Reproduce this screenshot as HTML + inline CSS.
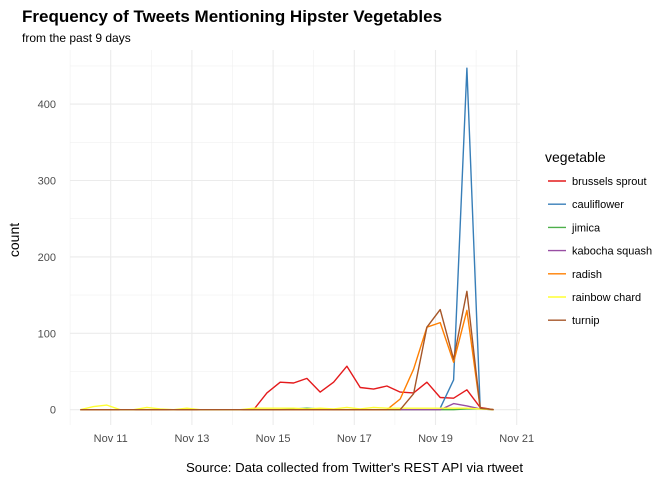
<!DOCTYPE html>
<html><head><meta charset="utf-8"><style>
body{margin:0;background:#fff;font-family:"Liberation Sans",sans-serif;}
svg text{font-family:"Liberation Sans",sans-serif;}
</style></head><body>
<svg id="chart" width="672" height="480" viewBox="0 0 672 480">
<text x="22" y="22" font-size="17" font-weight="bold" fill="#000">Frequency of Tweets Mentioning Hipster Vegetables</text>
<text x="22" y="42" font-size="12" fill="#000">from the past 9 days</text>
<g id="grid"></g>
<g id="series"></g>
<g id="axes"></g>
<text transform="translate(19,240) rotate(-90)" text-anchor="middle" font-size="14" fill="#000">count</text>
<text x="523" y="472" text-anchor="end" font-size="13.2" fill="#000">Source: Data collected from Twitter's REST API via rtweet</text>
<g id="legend"></g>
</svg>
<script>
const seriesNames = ["brussels sprout","cauliflower","jimica","kabocha squash","radish","rainbow chard","turnip"];
const seriesColors = ["#e41a1c","#377eb8","#4daf4a","#984ea3","#ff7f00","#ffff33","#a65628"];
const startDay = -0.75;
const stepDay = 0.3284;
const brussels = [0,0,0,0,0,0,0,0,0,0,0,0,0,0,22,36,35,41,23,36,57,29,27,31,23,22,36,16,15,26,3,0];
const cauliflower = [null,null,null,null,null,null,null,null,null,null,null,null,null,null,null,null,null,null,null,null,null,null,null,null,null,null,null,2,39,447,2,0];
const jimica = [0,0,0,0,0,0,0,0,0,0,0,0,0,0,0,0,1,2,1,0,0,0,0,0,0,0,0,0,0,1,1,0];
const kabocha = [null,null,null,null,null,null,null,null,null,null,null,null,null,null,null,null,null,null,null,null,null,null,null,null,0,0,0,0,8,5,1,0];
const radish = [0,0,0,0,0,0,0,0,0,0,0,0,0,0,0,0,0,0,0,0,0,0,0,0,14,53,108,114,62,130,2,0];
const chard = [0,4,6,0,0,3,1,0,2,0,0,0,0,2,2,2,2,1,2,1,3,1,3,2,2,2,2,2,2,2,1,0];
const turnip = [0,0,0,0,0,0,0,0,0,0,0,0,0,0,0,0,0,0,0,0,0,0,0,0,0,21,108,131,66,155,2,0];
const seriesData = [brussels,cauliflower,jimica,kabocha,radish,chard,turnip];
const yTicks = [0,100,200,300,400];
const xTickDays = [0,2,4,6,8,10];
const xTickLabels = ["Nov 11","Nov 13","Nov 15","Nov 17","Nov 19","Nov 21"];

const NS="http://www.w3.org/2000/svg";
const L=70,R=520,T=50,B=425;
const xScale=d=>110.7+d*40.6;
const yScale=v=>409.7-v*0.764;
function mk(tag,attrs,parent,text){const e=document.createElementNS(NS,tag);for(const k in attrs)e.setAttribute(k,attrs[k]);if(text!==undefined)e.textContent=text;parent.appendChild(e);return e;}
const grid=document.getElementById('grid'),axes=document.getElementById('axes'),ser=document.getElementById('series'),leg=document.getElementById('legend');
for(let v=50;v<=450;v+=100){const y=yScale(v);if(y>=T){const g=mk('line',{x1:L,x2:R,y1:y,y2:y,stroke:'#f0f0f0','stroke-width':0.6},grid);

}}
for(let d=-1;d<=9;d+=2){const x=xScale(d);const g=mk('line',{x1:x,x2:x,y1:T,y2:B,stroke:'#f0f0f0','stroke-width':0.6},grid);

}
yTicks.forEach(v=>{const y=yScale(v);const g=mk('line',{x1:L,x2:R,y1:y,y2:y,stroke:'#ebebeb','stroke-width':1.1},grid);


const t=mk('text',{x:56,y:y+4,'text-anchor':'end','font-size':11,fill:'#4d4d4d'},axes,String(v));

});
xTickDays.forEach((d,i)=>{const x=xScale(d);const g=mk('line',{x1:x,x2:x,y1:T,y2:B,stroke:'#ebebeb','stroke-width':1.1},grid);


const t=mk('text',{x:x,y:442,'text-anchor':'middle','font-size':11,fill:'#4d4d4d'},axes,xTickLabels[i]);

});
seriesData.forEach((arr,s)=>{let segs=[],cur=[];arr.forEach((v,i)=>{if(v===null){if(cur.length)segs.push(cur);cur=[];}else cur.push(xScale(startDay+i*stepDay).toFixed(1)+','+yScale(v).toFixed(1));});if(cur.length)segs.push(cur);
segs.forEach(pts=>{const p=mk('polyline',{points:pts.join(' '),fill:'none',stroke:seriesColors[s],'stroke-width':1.4,'stroke-linejoin':'round'},ser);

});});
const lt=mk('text',{x:545,y:162,'font-size':14,fill:'#000'},leg,'vegetable');


seriesNames.forEach((n,i)=>{const y=181+i*23.2;const g=mk('g',{},leg);


mk('line',{x1:548,x2:566,y1:y,y2:y,stroke:seriesColors[i],'stroke-width':1.4},g);
mk('text',{x:572,y:y+4,'font-size':11,fill:'#000'},g,n);});
</script>
</body></html>
